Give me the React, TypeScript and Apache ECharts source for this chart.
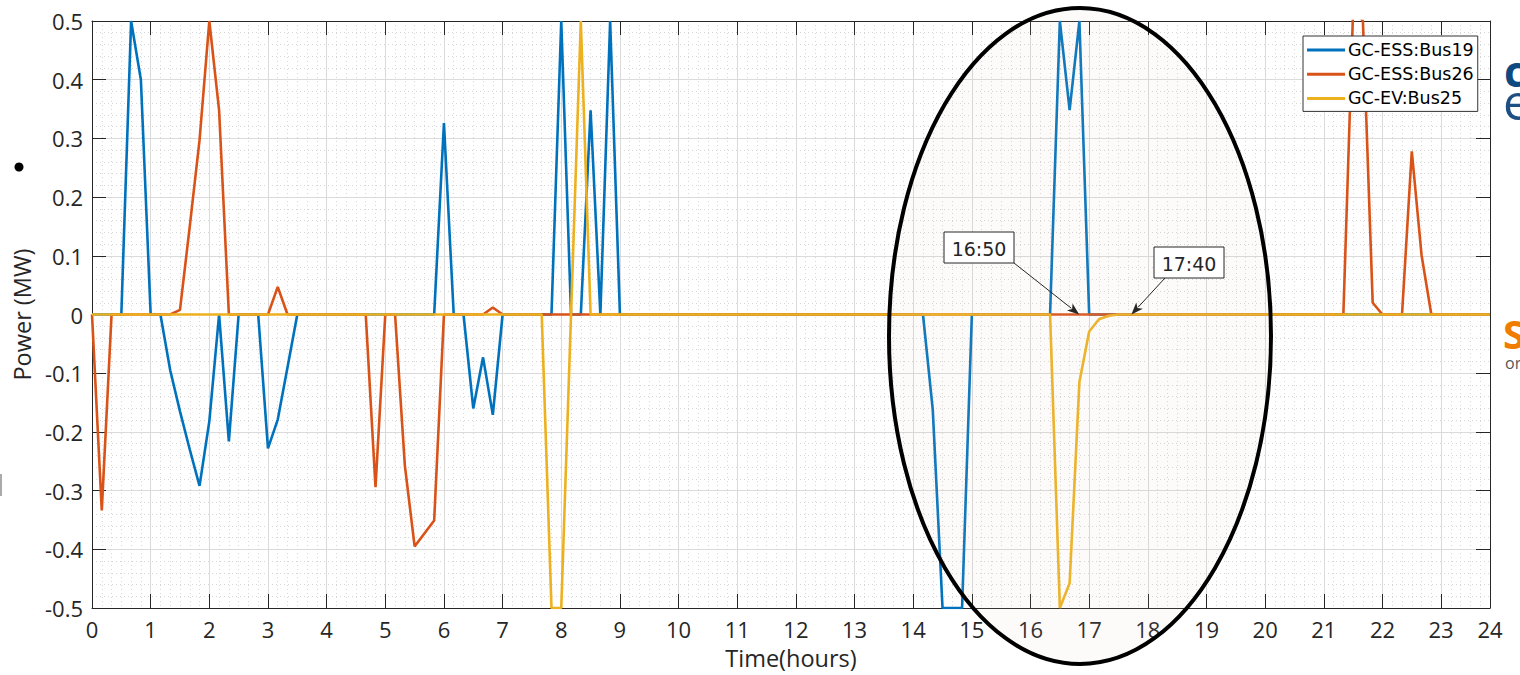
import React, { useEffect, useRef } from 'react';
import * as echarts from 'echarts';

// ---- data (time in minutes from midnight, power in MW) ----
const bus19Min = [0, 30, 40, 50, 60, 70, 80, 90, 100, 110, 120, 130, 140, 150, 170, 180, 190, 200, 210, 350, 360, 370, 380, 390, 400, 410, 420, 470, 480, 490, 500, 510, 520, 530, 540, 850, 860, 870, 880, 890, 900, 980, 990, 1000, 1010, 1020, 1430];
const bus19MW = [0, 0, 0.5, 0.4, 0, 0, -0.095, -0.165, -0.23, -0.292, -0.182, 0, -0.216, 0, 0, -0.228, -0.179, -0.09, 0, 0, 0.326, 0, 0, -0.16, -0.073, -0.171, 0, 0, 0.5, 0, 0, 0.348, 0, 0.5, 0, 0, -0.162, -0.5, -0.5, -0.5, 0, 0, 0.5, 0.348, 0.5, 0, 0];

const bus26Min = [0, 10, 20, 80, 90, 100, 110, 120, 130, 140, 180, 190, 200, 280, 290, 300, 310, 320, 330, 340, 350, 360, 400, 410, 420, 1280, 1290, 1300, 1310, 1320, 1340, 1350, 1360, 1370, 1430];
const bus26MW = [0, -0.334, 0, 0, 0.008, 0.15, 0.297, 0.5, 0.348, 0, 0, 0.047, 0, 0, -0.294, 0, 0, -0.257, -0.395, -0.373, -0.351, 0, 0, 0.012, 0, 0, 0.52, 0.5, 0.02, 0, 0, 0.278, 0.101, 0, 0];

const bus25Min = [0, 460, 470, 480, 490, 500, 510, 980, 990, 1000, 1010, 1020, 1030, 1040, 1050, 1430];
const bus25MW = [0, 0, -0.5, -0.5, 0, 0.5, 0, 0, -0.5, -0.458, -0.115, -0.029, -0.008, -0.002, 0, 0];

const seriesNames = ['GC-ESS:Bus19', 'GC-ESS:Bus26', 'GC-EV:Bus25'];
const seriesColors = ['#0072BD', '#D95319', '#EDB120'];

const xMaxMin = 1430; // last sample (23:50)
const annotations = [
  { label: '16:50', t: 16.83, box: [944, 232, 70, 31], from: [1014, 263] },
  { label: '17:40', t: 17.72, box: [1154, 247, 70, 31], from: [1165, 278] },
];

const toPairs = (mins: number[], vals: number[]) => mins.map((m, i) => [m / 60, vals[i]]);

const FONT = '"Open Sans", "Noto Sans", sans-serif';
const AX = '#262626';

export default function App() {
  const ref = useRef<HTMLDivElement>(null);

  useEffect(() => {
    if (!ref.current) return;
    const chart = echarts.init(ref.current, undefined, { renderer: 'svg' });
    const xMax = xMaxMin / 60;

    const gridCommonX = {
      type: 'value' as const,
      min: 0,
      max: xMax,
      interval: 1,
    };
    const gridCommonY = {
      type: 'value' as const,
      min: -0.5,
      max: 0.5,
      interval: 0.1,
    };
    const boxLine = { show: true, onZero: false, lineStyle: { color: AX, width: 1 } };
    const boxTick = { show: true, inside: true, length: 14, lineStyle: { color: AX, width: 1 } };

    const option: any = {
      animation: false,
      backgroundColor: '#ffffff',
      grid: { left: 92, right: 30, top: 21, bottom: 66, containLabel: false },
      legend: {
        orient: 'vertical',
        left: 1303,
        top: 36,
        padding: [5, 4, 4, 4],
        itemGap: 6.2,
        itemWidth: 38,
        itemHeight: 3,
        icon: 'rect',
        backgroundColor: '#ffffff',
        borderColor: '#333333',
        borderWidth: 1,
        borderRadius: 0,
        textStyle: { fontFamily: '"DejaVu Sans", sans-serif', fontSize: 17.5, color: '#000000', padding: [0, 0, 0, -2] },
        data: seriesNames,
      },
      xAxis: [
        {
          ...gridCommonX,
          position: 'bottom',
          name: 'Time(hours)',
          nameLocation: 'middle',
          nameGap: 38,
          nameTextStyle: { fontFamily: FONT, fontSize: 23.5, color: AX },
          axisLine: boxLine,
          axisTick: boxTick,
          axisLabel: {
            show: true,
            margin: 10,
            fontFamily: FONT,
            fontSize: 22,
            color: AX,
            showMaxLabel: true,
            showMinLabel: true,
            formatter: (v: number) => (v > 23.5 ? '24' : String(Math.round(v))),
          },
          splitLine: { show: true, lineStyle: { color: '#dadada', width: 1 } },
          minorTick: { show: false, splitNumber: 6 },
          minorSplitLine: { show: true, lineStyle: { color: '#d6d6d6', width: 1, type: [1, 3] } },
        },
        {
          ...gridCommonX,
          position: 'top',
          axisLine: boxLine,
          axisTick: boxTick,
          axisLabel: { show: false },
          splitLine: { show: false },
        },
      ],
      yAxis: [
        {
          ...gridCommonY,
          position: 'left',
          name: 'Power (MW)',
          nameLocation: 'middle',
          nameGap: 52,
          nameTextStyle: { fontFamily: FONT, fontSize: 23.5, color: AX },
          axisLine: boxLine,
          axisTick: boxTick,
          axisLabel: {
            show: true,
            margin: 9,
            fontFamily: FONT,
            fontSize: 22,
            color: AX,
            formatter: (v: number) => {
              const r = Math.round(v * 10) / 10;
              return r === 0 ? '0' : String(r);
            },
          },
          splitLine: { show: true, lineStyle: { color: '#dadada', width: 1 } },
          minorTick: { show: false, splitNumber: 5 },
          minorSplitLine: { show: true, lineStyle: { color: '#d6d6d6', width: 1, type: [1, 3] } },
        },
        {
          ...gridCommonY,
          position: 'right',
          axisLine: boxLine,
          axisTick: boxTick,
          axisLabel: { show: false },
          splitLine: { show: false },
        },
      ],
      series: [
        { name: seriesNames[0], data: toPairs(bus19Min, bus19MW) },
        { name: seriesNames[1], data: toPairs(bus26Min, bus26MW) },
        { name: seriesNames[2], data: toPairs(bus25Min, bus25MW) },
      ].map((s, i) => ({
        ...s,
        type: 'line',
        xAxisIndex: 0,
        yAxisIndex: 0,
        showSymbol: false,
        symbol: 'none',
        clip: true,
        color: seriesColors[i],
        lineStyle: { color: seriesColors[i], width: 2.6 },
        z: 2 + i,
      })),
    };

    chart.setOption(option);

    // annotations: ellipse, boxed labels with arrows, and the cropped slide fragments
    const graphics: any[] = [
      {
        type: 'ellipse',
        shape: { cx: 1080, cy: 336, rx: 191, ry: 328 },
        style: { fill: 'rgba(225,210,190,0.08)', stroke: '#000000', lineWidth: 4 },
        z: 50,
        silent: true,
      },
    ];

    annotations.forEach((a) => {
      const tip = chart.convertToPixel({ xAxisIndex: 0, yAxisIndex: 0 }, [a.t, 0]) as number[];
      const [bx, by, bw, bh] = a.box;
      const [fx, fy] = a.from;
      const dx = tip[0] - fx;
      const dy = tip[1] - fy;
      const len = Math.sqrt(dx * dx + dy * dy);
      const ux = dx / len;
      const uy = dy / len;
      const hl = 12;
      const hw = 4.5;
      const baseX = tip[0] - ux * hl;
      const baseY = tip[1] - uy * hl;
      graphics.push(
        {
          type: 'line',
          shape: { x1: fx, y1: fy, x2: baseX + ux * 2, y2: baseY + uy * 2 },
          style: { stroke: '#262626', lineWidth: 1 },
          z: 60,
          silent: true,
        },
        {
          type: 'polygon',
          shape: {
            points: [
              [tip[0], tip[1]],
              [baseX - uy * hw, baseY + ux * hw],
              [baseX + ux * 3, baseY + uy * 3],
              [baseX + uy * hw, baseY - ux * hw],
            ],
          },
          style: { fill: '#262626' },
          z: 60,
          silent: true,
        },
        {
          type: 'rect',
          shape: { x: bx, y: by, width: bw, height: bh },
          style: { fill: '#ffffff', stroke: '#262626', lineWidth: 1 },
          z: 60,
          silent: true,
        },
        {
          type: 'text',
          x: bx + bw / 2,
          y: by + bh / 2 + 1,
          style: {
            text: a.label,
            fontFamily: '"DejaVu Sans", sans-serif',
            fontSize: 19,
            fill: '#262626',
            align: 'center',
            verticalAlign: 'middle',
          },
          z: 61,
          silent: true,
        }
      );
    });

    graphics.push(
      { type: 'circle', shape: { cx: 19, cy: 167, r: 4.5 }, style: { fill: '#000000' }, silent: true },
      { type: 'rect', shape: { x: 0, y: 474, width: 2, height: 22 }, style: { fill: '#aaaaaa' }, silent: true },
      {
        type: 'text', x: 1504, y: 70,
        style: { text: 'c', fontFamily: FONT, fontWeight: 'bold', fontSize: 43, lineHeight: 26, fill: '#0d4a80', align: 'left', verticalAlign: 'middle' },
        silent: true,
      },
      {
        type: 'text', x: 1503, y: 101,
        style: { text: 'e', fontFamily: FONT, fontSize: 50, lineHeight: 30, fill: '#1d4f82', align: 'left', verticalAlign: 'middle' },
        silent: true,
      },
      {
        type: 'text', x: 1503, y: 333,
        style: { text: 'S', fontFamily: FONT, fontWeight: 'bold', fontSize: 40, lineHeight: 30, fill: '#f07d00', align: 'left', verticalAlign: 'middle' },
        silent: true,
      },
      {
        type: 'text', x: 1505, y: 363,
        style: { text: 'or', fontFamily: FONT, fontSize: 16, lineHeight: 12, fill: '#555555', align: 'left', verticalAlign: 'middle' },
        silent: true,
      }
    );

    chart.setOption({ graphic: graphics });

    return () => chart.dispose();
  }, []);

  return (
    <div
      ref={ref}
      style={{ position: 'fixed', left: 0, top: 0, width: '1520px', height: '675px', background: '#ffffff' }}
    />
  );
}
